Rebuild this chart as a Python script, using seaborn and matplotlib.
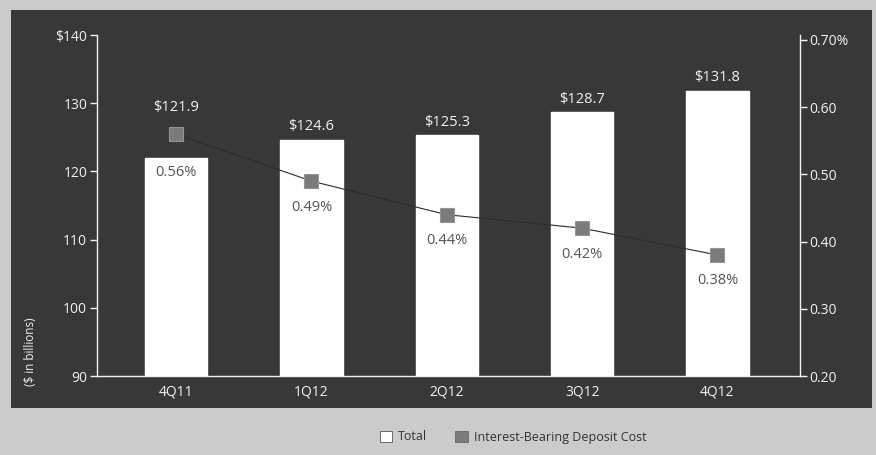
import matplotlib
matplotlib.use("Agg")
import matplotlib.pyplot as plt
import numpy as np
import pandas as pd
import seaborn as sns
from matplotlib.patches import Rectangle
from matplotlib.patches import Patch

QUARTERS = ["4Q11", "1Q12", "2Q12", "3Q12", "4Q12"]
TOTAL_DEPOSITS = [121.9, 124.6, 125.3, 128.7, 131.8]
DEPOSIT_COST = [0.56, 0.49, 0.44, 0.42, 0.38]
LEFT_TICKS = [90, 100, 110, 120, 130, 140]
LEFT_TICK_LABELS = ["90", "100", "110", "120", "130", "$140"]
RIGHT_TICKS = [0.20, 0.30, 0.40, 0.50, 0.60, 0.70]
RIGHT_TICK_LABELS = ["0.20", "0.30", "0.40", "0.50", "0.60", "0.70%"]

PANEL = "#383838"
PAGE = "#cbcbcb"
FG = "#f2f2f2"
MARKER = "#7b7b7b"

sns.set_style("dark")
plt.rcParams["font.family"] = ["Open Sans", "DejaVu Sans"]

df = pd.DataFrame({"quarter": QUARTERS, "total": TOTAL_DEPOSITS, "cost": DEPOSIT_COST})
pos = np.arange(len(QUARTERS))

fig = plt.figure(figsize=(8.76, 4.55), dpi=100, facecolor=PAGE)
fig.patches.append(Rectangle((11 / 876, 1 - 408 / 455), 861 / 876, 398 / 455,
                             transform=fig.transFigure, facecolor=PANEL,
                             edgecolor="none", zorder=-10))

ax = fig.add_axes([97 / 876, 1 - 376 / 455, 703 / 876, 341 / 455])
ax.set_facecolor("none")
sns.barplot(data=df, x="quarter", y="total", color="white", width=0.46,
            saturation=1, ax=ax, zorder=2)
ax.set_ylim(90, 140)
ax.set_xlim(-0.585, 4.61)
ax.set_yticks(LEFT_TICKS)
ax.set_yticklabels(LEFT_TICK_LABELS)
ax.set_xlabel("")
ax.set_ylabel("")
ax.set_xticks(pos)
ax.set_xticklabels(QUARTERS)
ax.set_xticks(pos[:-1] + 0.5, minor=True)
ax.tick_params(axis="x", which="major", length=0, colors=FG, labelsize=10, pad=6)
ax.tick_params(axis="x", which="minor", length=5, width=1, color=FG, direction="out")
ax.tick_params(axis="y", length=5, width=1, color=FG, labelcolor=FG, labelsize=10, direction="out", pad=2)
ax.grid(False)
for side in ["top", "right"]:
    ax.spines[side].set_visible(False)
for side in ["left", "bottom"]:
    ax.spines[side].set_visible(True)
    ax.spines[side].set_color(FG)
    ax.spines[side].set_linewidth(1)

ax2 = ax.twinx()
sns.lineplot(x=pos, y=df["cost"], ax=ax2, color="#2c2c2c", linewidth=0.8,
             marker="s", markersize=10, markerfacecolor=MARKER,
             markeredgecolor="#959595", markeredgewidth=0.8, zorder=3)
ax2.set_ylim(0.2015, 0.7074)
ax2.set_yticks(RIGHT_TICKS)
ax2.set_yticklabels(RIGHT_TICK_LABELS)
ax2.set_ylabel("")
ax2.tick_params(axis="y", length=5, width=1, color=FG, labelcolor=FG, labelsize=10, direction="out", pad=2)
ax2.grid(False)
for side in ["top", "left", "bottom"]:
    ax2.spines[side].set_visible(False)
ax2.spines["right"].set_visible(True)
ax2.spines["right"].set_color(FG)
ax2.spines["right"].set_linewidth(1)

# value labels: bar totals above, costs below markers
lo1, hi1 = ax.get_ylim()
lo2, hi2 = ax2.get_ylim()
for i, (tot, cost) in enumerate(zip(TOTAL_DEPOSITS, DEPOSIT_COST)):
    marker_eq = lo1 + (cost - lo2) / (hi2 - lo2) * (hi1 - lo1)
    top = max(tot, marker_eq + 2.0)
    ax.annotate(f"${tot:.1f}", (i, top), xytext=(0, 4), textcoords="offset points",
                ha="center", va="bottom", color=FG, fontsize=10.5, zorder=5)
    pct_y = min(marker_eq - 3.8, tot - 2.1)
    ax.text(i, pct_y, f"{cost:.2f}%", ha="center", va="center",
            color="#555555", fontsize=10.5, zorder=5)

fig.text(30 / 876, 1 - 352 / 455, "($ in billions)", rotation=90, ha="center",
         va="center", color=FG, fontsize=8.5)

handles = [
    Patch(facecolor="white", edgecolor="#555555", linewidth=0.6, label="Total"),
    Patch(facecolor=MARKER, edgecolor="#666666", linewidth=0.6, label="Interest-Bearing Deposit Cost"),
]
leg = fig.legend(handles=handles, loc="center", bbox_to_anchor=(513 / 876, 1 - 437 / 455),
                 ncol=2, frameon=False, fontsize=9, handlelength=1.0, handleheight=1.0,
                 columnspacing=2.2, handletextpad=0.5)
for t in leg.get_texts():
    t.set_color("#333333")

fig.savefig("out.png", dpi=100, facecolor=PAGE)
